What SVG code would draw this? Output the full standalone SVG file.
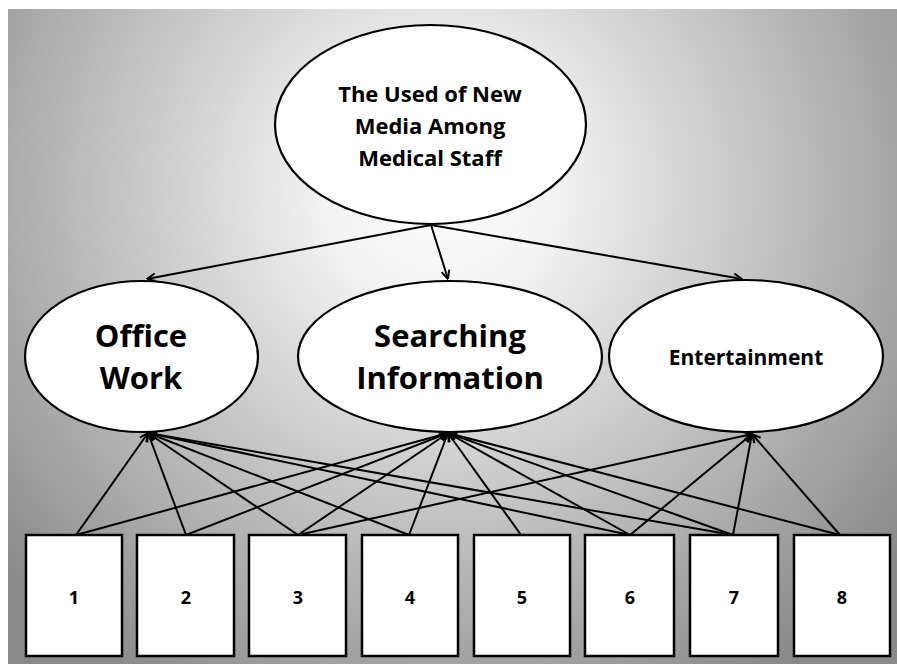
<svg xmlns="http://www.w3.org/2000/svg" width="897" height="664" viewBox="0 0 897 664">
<defs>
<radialGradient id="bg" gradientUnits="userSpaceOnUse" cx="440" cy="190" r="580">
<stop offset="0" stop-color="#ffffff"/>
<stop offset="0.2" stop-color="#f2f2f2"/>
<stop offset="1" stop-color="#8a8a8a"/>
</radialGradient>
<marker id="arr" viewBox="0 0 10 10" refX="9.5" refY="5" markerWidth="10" markerHeight="10" markerUnits="userSpaceOnUse" orient="auto">
<path d="M1,1 L9.5,5 L1,9" fill="none" stroke="#000" stroke-width="2"/>
</marker>
<style>
.node{fill:#fff;stroke:#000;stroke-width:2.2}
.box{fill:#fff;stroke:#000;stroke-width:2.5}
.c{fill:none;stroke:#000;stroke-width:2;marker-end:url(#arr)}
.t{font-family:"Open Sans","Liberation Sans",sans-serif;font-weight:bold;fill:#000;text-anchor:middle}
</style>
</defs>
<rect x="0" y="0" width="897" height="664" fill="#ffffff"/>
<rect x="8" y="9" width="889" height="655" fill="url(#bg)"/>

<g id="connectors">
<line class="c" x1="431" y1="225" x2="147" y2="279"/>
<line class="c" x1="431" y1="225" x2="448" y2="279"/>
<line class="c" x1="431" y1="225" x2="742" y2="279"/>
<line class="c" x1="76" y1="535" x2="148" y2="433"/>
<line class="c" x1="186" y1="535" x2="148" y2="433"/>
<line class="c" x1="298" y1="535" x2="148" y2="433"/>
<line class="c" x1="409" y1="535" x2="148" y2="433"/>
<line class="c" x1="630" y1="535" x2="148" y2="433"/>
<line class="c" x1="733" y1="535" x2="148" y2="433"/>
<line class="c" x1="76" y1="535" x2="448" y2="433"/>
<line class="c" x1="186" y1="535" x2="448" y2="433"/>
<line class="c" x1="298" y1="535" x2="448" y2="433"/>
<line class="c" x1="409" y1="535" x2="448" y2="433"/>
<line class="c" x1="521" y1="535" x2="448" y2="433"/>
<line class="c" x1="630" y1="535" x2="448" y2="433"/>
<line class="c" x1="733" y1="535" x2="448" y2="433"/>
<line class="c" x1="840" y1="535" x2="448" y2="433"/>
<line class="c" x1="298" y1="535" x2="752" y2="434"/>
<line class="c" x1="630" y1="535" x2="752" y2="434"/>
<line class="c" x1="733" y1="535" x2="752" y2="434"/>
<line class="c" x1="840" y1="535" x2="752" y2="434"/>
</g>

<g id="top">
<ellipse class="node" cx="430.5" cy="124.5" rx="155.5" ry="99.5"/>
<text class="t" x="430" y="102" font-size="22">The Used of New</text>
<text class="t" x="430" y="134" font-size="22">Media Among</text>
<text class="t" x="430" y="166" font-size="22">Medical Staff</text>
</g>
<g id="office">
<ellipse class="node" cx="141.5" cy="356.5" rx="116.5" ry="75.5"/>
<text class="t" x="141" y="347" font-size="31">Office</text>
<text class="t" x="141" y="389" font-size="31">Work</text>
</g>
<g id="searching">
<ellipse class="node" cx="450" cy="356.5" rx="152" ry="75.5"/>
<text class="t" x="450" y="347" font-size="31">Searching</text>
<text class="t" x="450" y="389" font-size="31">Information</text>
</g>
<g id="entertainment">
<ellipse class="node" cx="746" cy="356" rx="137" ry="76"/>
<text class="t" x="746" y="365" font-size="21">Entertainment</text>
</g>

<g id="b1"><rect class="box" x="26" y="535" width="96" height="121"/><text class="t" x="74" y="604" font-size="18">1</text></g>
<g id="b2"><rect class="box" x="137" y="535" width="97" height="121"/><text class="t" x="186" y="604" font-size="18">2</text></g>
<g id="b3"><rect class="box" x="249" y="535" width="97" height="121"/><text class="t" x="298" y="604" font-size="18">3</text></g>
<g id="b4"><rect class="box" x="362" y="535" width="96" height="121"/><text class="t" x="410" y="604" font-size="18">4</text></g>
<g id="b5"><rect class="box" x="474" y="535" width="96" height="121"/><text class="t" x="522" y="604" font-size="18">5</text></g>
<g id="b6"><rect class="box" x="585" y="535" width="89" height="121"/><text class="t" x="630" y="604" font-size="18">6</text></g>
<g id="b7"><rect class="box" x="690" y="535" width="88" height="121"/><text class="t" x="734" y="604" font-size="18">7</text></g>
<g id="b8"><rect class="box" x="794" y="535" width="96" height="121"/><text class="t" x="842" y="604" font-size="18">8</text></g>
</svg>
